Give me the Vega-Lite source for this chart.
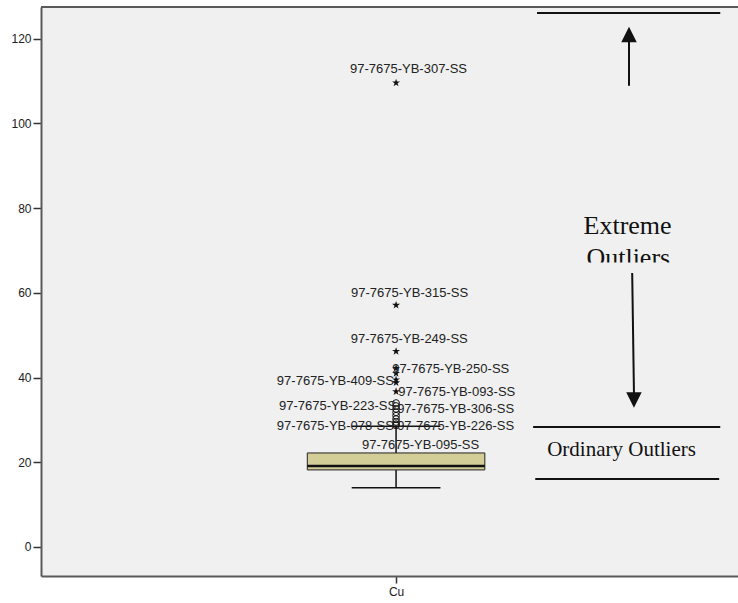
{
  "$schema": "https://vega.github.io/schema/vega-lite/v6.json",
  "width": 697,
  "height": 569,
  "autosize": {"type": "none"},
  "padding": {"left": 41, "top": 7, "right": 0, "bottom": 27},
  "background": "#ffffff",
  "config": {
    "view": {"stroke": null, "fill": "#f0f0f0"},
    "axis": {
      "grid": false,
      "labelFont": "Liberation Sans",
      "labelFontSize": 12,
      "labelColor": "#222222",
      "tickColor": "#333333",
      "tickWidth": 1.5,
      "domainColor": "#5a5a5a",
      "domainWidth": 2,
      "title": null
    },
    "axisY": {"tickSize": 8, "labelPadding": 2},
    "axisX": {"tickSize": 7, "labelPadding": 3}
  },
  "datasets": {
    "summary": [
      {"variable": "Cu", "lower": 14.0, "q1": 18.2, "median": 19.1, "q3": 22.2, "upper": 28.5}
    ],
    "outliers": [
      {"case": "97-7675-YB-307-SS", "Cu": 109.6, "type": "extreme"},
      {"case": "97-7675-YB-315-SS", "Cu": 57.1, "type": "extreme"},
      {"case": "97-7675-YB-249-SS", "Cu": 46.2, "type": "extreme"},
      {"case": "97-7675-YB-250-SS", "Cu": 42.2, "type": "extreme"},
      {"case": "", "Cu": 41.0, "type": "extreme"},
      {"case": "97-7675-YB-409-SS", "Cu": 39.5, "type": "extreme"},
      {"case": "", "Cu": 38.8, "type": "extreme"},
      {"case": "97-7675-YB-093-SS", "Cu": 36.7, "type": "extreme"},
      {"case": "", "Cu": 34.0, "type": "ordinary"},
      {"case": "97-7675-YB-223-SS", "Cu": 33.3, "type": "ordinary"},
      {"case": "97-7675-YB-306-SS", "Cu": 32.6, "type": "ordinary"},
      {"case": "", "Cu": 31.8, "type": "ordinary"},
      {"case": "", "Cu": 31.0, "type": "ordinary"},
      {"case": "", "Cu": 30.2, "type": "ordinary"},
      {"case": "97-7675-YB-078-SS", "Cu": 29.5, "type": "ordinary"},
      {"case": "97-7675-YB-226-SS", "Cu": 29.0, "type": "ordinary"},
      {"case": "97-7675-YB-095-SS", "Cu": 28.7, "type": "ordinary"}
    ],
    "caseLabels": [
      {"case": "97-7675-YB-307-SS", "lx": 0.035, "ly": 112.9, "side": "center"},
      {"case": "97-7675-YB-315-SS", "lx": 0.038, "ly": 60.0, "side": "center"},
      {"case": "97-7675-YB-249-SS", "lx": 0.037, "ly": 49.1, "side": "center"},
      {"case": "97-7675-YB-250-SS", "lx": -0.011, "ly": 42.0, "side": "left"},
      {"case": "97-7675-YB-409-SS", "lx": -0.006, "ly": 39.2, "side": "right"},
      {"case": "97-7675-YB-093-SS", "lx": 0.006, "ly": 36.6, "side": "left"},
      {"case": "97-7675-YB-223-SS", "lx": 0.0, "ly": 33.3, "side": "right"},
      {"case": "97-7675-YB-306-SS", "lx": 0.003, "ly": 32.6, "side": "left"},
      {"case": "97-7675-YB-078-SS", "lx": -0.006, "ly": 28.6, "side": "right"},
      {"case": "97-7675-YB-226-SS", "lx": 0.003, "ly": 28.6, "side": "left"},
      {"case": "97-7675-YB-095-SS", "lx": 0.069, "ly": 24.1, "side": "center"}
    ],
    "one": [{}]
  },
  "layer": [
    {
      "data": {"name": "summary"},
      "mark": {"type": "rule", "color": "#111111", "strokeWidth": 1.5},
      "encoding": {
        "x": {"datum": 0, "type": "quantitative",
              "scale": {"domain": [-1, 0.963], "nice": false, "zero": false},
              "axis": {"values": [0], "labelExpr": "'Cu'"}},
        "y": {"field": "lower", "type": "quantitative",
              "scale": {"domain": [-6.85, 127.5], "nice": false, "zero": false},
              "axis": {"values": [0, 20, 40, 60, 80, 100, 120]}},
        "y2": {"field": "upper"}
      }
    },
    {
      "data": {"name": "summary"},
      "mark": {"type": "rule", "color": "#111111", "strokeWidth": 1.5},
      "encoding": {
        "x": {"datum": -0.125, "type": "quantitative"},
        "x2": {"datum": 0.125},
        "y": {"field": "lower", "type": "quantitative"}
      }
    },
    {
      "data": {"name": "summary"},
      "mark": {"type": "rule", "color": "#111111", "strokeWidth": 1.5},
      "encoding": {
        "x": {"datum": -0.125, "type": "quantitative"},
        "x2": {"datum": 0.125},
        "y": {"field": "upper", "type": "quantitative"}
      }
    },
    {
      "data": {"name": "summary"},
      "mark": {"type": "rect", "fill": "#d3ce97", "stroke": "#222222", "strokeWidth": 1},
      "encoding": {
        "x": {"datum": -0.25, "type": "quantitative"},
        "x2": {"datum": 0.25},
        "y": {"field": "q1", "type": "quantitative"},
        "y2": {"field": "q3"}
      }
    },
    {
      "data": {"name": "summary"},
      "mark": {"type": "rule", "color": "#111111", "strokeWidth": 2.5},
      "encoding": {
        "x": {"datum": -0.25, "type": "quantitative"},
        "x2": {"datum": 0.25},
        "y": {"field": "median", "type": "quantitative"}
      }
    },
    {
      "data": {"name": "outliers"},
      "transform": [{"filter": "datum.type === 'ordinary'"}],
      "mark": {"type": "point", "shape": "circle", "filled": false, "stroke": "#111111", "strokeWidth": 1, "size": 45, "opacity": 1},
      "encoding": {
        "x": {"datum": 0, "type": "quantitative"},
        "y": {"field": "Cu", "type": "quantitative"}
      }
    },
    {
      "data": {"name": "outliers"},
      "transform": [{"filter": "datum.type === 'extreme'"}],
      "mark": {"type": "point", "shape": "M0,-1L0.225,-0.309L0.951,-0.309L0.363,0.118L0.588,0.809L0,0.382L-0.588,0.809L-0.363,0.118L-0.951,-0.309L-0.225,-0.309Z", "filled": true, "fill": "#111111", "strokeWidth": 0, "size": 70, "opacity": 1},
      "encoding": {
        "x": {"datum": 0, "type": "quantitative"},
        "y": {"field": "Cu", "type": "quantitative"}
      }
    },
    {
      "data": {"name": "caseLabels"},
      "transform": [{"filter": "datum.side === 'center'"}],
      "mark": {"type": "text", "align": "center", "baseline": "middle", "font": "Liberation Sans", "fontSize": 13, "color": "#222222"},
      "encoding": {
        "x": {"field": "lx", "type": "quantitative"},
        "y": {"field": "ly", "type": "quantitative"},
        "text": {"field": "case"}
      }
    },
    {
      "data": {"name": "caseLabels"},
      "transform": [{"filter": "datum.side === 'left'"}],
      "mark": {"type": "text", "align": "left", "baseline": "middle", "font": "Liberation Sans", "fontSize": 13, "color": "#222222"},
      "encoding": {
        "x": {"field": "lx", "type": "quantitative"},
        "y": {"field": "ly", "type": "quantitative"},
        "text": {"field": "case"}
      }
    },
    {
      "data": {"name": "caseLabels"},
      "transform": [{"filter": "datum.side === 'right'"}],
      "mark": {"type": "text", "align": "right", "baseline": "middle", "font": "Liberation Sans", "fontSize": 13, "color": "#222222"},
      "encoding": {
        "x": {"field": "lx", "type": "quantitative"},
        "y": {"field": "ly", "type": "quantitative"},
        "text": {"field": "case"}
      }
    },
    {
      "data": {"name": "one"},
      "mark": {"type": "rule", "color": "#111111", "strokeWidth": 2},
      "encoding": {
        "x": {"datum": 0.397, "type": "quantitative"},
        "x2": {"datum": 0.913},
        "y": {"datum": 126.1, "type": "quantitative"}
      }
    },
    {
      "data": {"name": "one"},
      "mark": {"type": "rule", "color": "#111111", "strokeWidth": 2},
      "encoding": {
        "x": {"datum": 0.386, "type": "quantitative"},
        "x2": {"datum": 0.913},
        "y": {"datum": 28.33, "type": "quantitative"}
      }
    },
    {
      "data": {"name": "one"},
      "mark": {"type": "rule", "color": "#111111", "strokeWidth": 2},
      "encoding": {
        "x": {"datum": 0.392, "type": "quantitative"},
        "x2": {"datum": 0.91},
        "y": {"datum": 16.06, "type": "quantitative"}
      }
    },
    {
      "data": {"name": "one"},
      "mark": {"type": "rule", "color": "#111111", "strokeWidth": 2},
      "encoding": {
        "x": {"datum": 0.656, "type": "quantitative"},
        "y": {"datum": 108.9, "type": "quantitative"},
        "y2": {"datum": 119.5}
      }
    },
    {
      "data": {"name": "one"},
      "mark": {"type": "point", "shape": "M0,-1L1,1L-1,1Z", "filled": true, "fill": "#111111", "strokeWidth": 0, "size": 240, "opacity": 1},
      "encoding": {
        "x": {"datum": 0.656, "type": "quantitative"},
        "y": {"datum": 121.0, "type": "quantitative"}
      }
    },
    {
      "data": {"name": "one"},
      "mark": {"type": "rule", "color": "#111111", "strokeWidth": 2},
      "encoding": {
        "x": {"datum": 0.665, "type": "quantitative"},
        "x2": {"datum": 0.67},
        "y": {"datum": 64.7, "type": "quantitative"},
        "y2": {"datum": 36.3}
      }
    },
    {
      "data": {"name": "one"},
      "mark": {"type": "point", "shape": "M0,1L1,-1L-1,-1Z", "filled": true, "fill": "#111111", "strokeWidth": 0, "size": 240, "opacity": 1},
      "encoding": {
        "x": {"datum": 0.67, "type": "quantitative"},
        "y": {"datum": 34.7, "type": "quantitative"}
      }
    },
    {
      "data": {"name": "one"},
      "mark": {"type": "text", "text": "Extreme", "align": "center", "baseline": "alphabetic", "font": "Liberation Serif", "fontSize": 26, "color": "#111111"},
      "encoding": {
        "x": {"datum": 0.652, "type": "quantitative"},
        "y": {"datum": 73.9, "type": "quantitative"}
      }
    },
    {
      "data": {"name": "one"},
      "mark": {"type": "text", "text": "Outliers", "align": "center", "baseline": "alphabetic", "font": "Liberation Serif", "fontSize": 26, "color": "#111111"},
      "encoding": {
        "x": {"datum": 0.654, "type": "quantitative"},
        "y": {"datum": 66.35, "type": "quantitative"}
      }
    },
    {
      "data": {"name": "one"},
      "mark": {"type": "rect", "fill": "#f0f0f0", "strokeWidth": 0},
      "encoding": {
        "x": {"datum": 0.45, "type": "quantitative"},
        "x2": {"datum": 0.86},
        "y": {"datum": 67.2, "type": "quantitative"},
        "y2": {"datum": 65.2}
      }
    },
    {
      "data": {"name": "one"},
      "mark": {"type": "text", "text": "Ordinary Outliers", "align": "center", "baseline": "alphabetic", "font": "Liberation Serif", "fontSize": 21, "color": "#111111"},
      "encoding": {
        "x": {"datum": 0.635, "type": "quantitative"},
        "y": {"datum": 21.5, "type": "quantitative"}
      }
    },
    {
      "data": {"name": "one"},
      "mark": {"type": "rule", "color": "#5a5a5a", "strokeWidth": 2},
      "encoding": {
        "y": {"datum": 127.5, "type": "quantitative"}
      }
    }
  ]
}
